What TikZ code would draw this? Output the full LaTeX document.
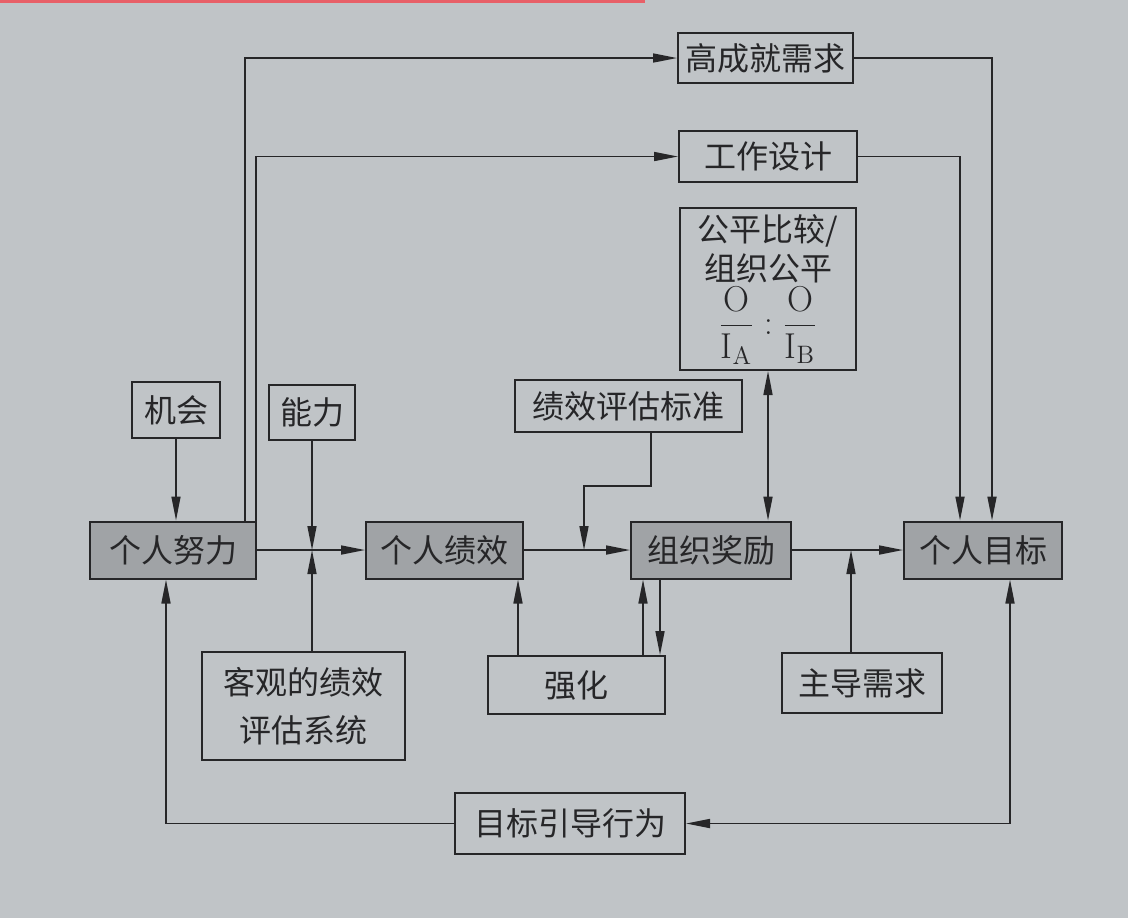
\documentclass[tikz,border=0pt]{standalone}
\usepackage{fontspec}
\usepackage{amsmath}
\newfontfamily\cjk{Noto Sans CJK SC}
\usetikzlibrary{arrows.meta}
\definecolor{paper}{RGB}{192,196,199}
\definecolor{shade}{RGB}{160,163,166}
\definecolor{ink}{RGB}{38,38,40}
\definecolor{redbar}{RGB}{232,96,104}
\begin{document}
\begin{tikzpicture}[x=0.5pt,y=-0.5pt,
  box/.style={draw=ink,line width=1pt,inner sep=0pt,text=ink,
    font=\cjk\fontsize{16}{24}\selectfont,align=center},
  dark/.style={box,fill=shade},
  lbl/.style={inner sep=0pt,text=ink,font=\cjk\fontsize{16}{24}\selectfont},
  conn/.style={draw=ink,line width=0.8pt},
  arr/.style={conn,-{Triangle[length=12pt,width=4.5pt]}},
  darr/.style={conn,{Triangle[length=12pt,width=4.5pt]}-{Triangle[length=12pt,width=4.5pt]}}]
\fill[paper] (0,0) rectangle (1128,918);
\fill[redbar] (0,0) rectangle (645,3);
% top boxes
\node[box,minimum width=87.5pt,minimum height=25pt] (gcj) at (765.5,58) {高成就需求};
\node[box,minimum width=89pt,minimum height=25.5pt] (gzsj) at (768,156.5) {工作设计};
\node[box,minimum width=88pt,minimum height=81pt] (gp) at (768,289) {};
\node[lbl] (gp1) at (768,231) {公平比较/};
\node[lbl] (gp2) at (768,268) {组织公平};
\node[inner sep=0pt,text=ink,font=\fontsize{18}{22}\selectfont] (gpf) at (768,325)
  {$\dfrac{\mathrm{O}}{\mathrm{I}_{\mathrm{A}}}:\dfrac{\mathrm{O}}{\mathrm{I}_{\mathrm{B}}}$};
% upper row
\node[box,minimum width=44pt,minimum height=28pt] (jh) at (176,410) {机会};
\node[box,minimum width=43pt,minimum height=27.5pt] (nl) at (312,412) {能力};
\node[box,minimum width=113.5pt,minimum height=26pt] (jxpg) at (628.5,406) {绩效评估标准};
% main row
\node[dark,minimum width=83pt,minimum height=28.5pt] (grnl) at (173,550) {个人努力};
\node[dark,minimum width=78.5pt,minimum height=28.5pt] (grjx) at (444.5,550) {个人绩效};
\node[dark,minimum width=80pt,minimum height=28.5pt] (zzjl) at (711,550) {组织奖励};
\node[dark,minimum width=79pt,minimum height=28.5pt] (grmb) at (983,550) {个人目标};
% lower row
\node[box,minimum width=101.5pt,minimum height=54pt] (kg) at (303.5,706) {客观的绩效\\评估系统};
\node[box,minimum width=88.5pt,minimum height=29pt] (qh) at (576.5,685) {强化};
\node[box,minimum width=80pt,minimum height=30pt] (zdxq) at (862,683) {主导需求};
\node[box,minimum width=115pt,minimum height=30.5pt] (mbyd) at (570,823.5) {目标引导行为};
% helper coordinates
\coordinate (J1) at (312,550);
\coordinate (J2) at (584,550);
\coordinate (J3) at (851,550);
\coordinate (Q1) at (651,486);
\coordinate (Q2) at (518,0);
\coordinate (Q3) at (643,0);
\coordinate (Q4) at (660,0);
\coordinate (Q5) at (992,0);
\coordinate (Q6) at (960,0);
\coordinate (Q7) at (245,0);
\coordinate (Q8) at (256,0);
\coordinate (Q9) at (166,0);
\coordinate (Q10) at (1010,0);
% connectors
\draw[arr] (jh.south) -- (jh.south |- grnl.north);
\draw[arr] (nl.south) -- (J1);
\draw[arr] (kg.north -| J1) -- (J1);
\draw[arr] (grnl.east) -- (grjx.west);
\draw[arr] (grjx.east) -- (zzjl.west);
\draw[arr] (jxpg.south -| Q1) -- (Q1) -| (J2);
\draw[arr] (zzjl.east) -- (grmb.west);
\draw[arr] (zdxq.north -| J3) -- (J3);
\draw[darr] (gp.south) -- (gp.south |- zzjl.north);
\draw[arr] (qh.north -| Q2) -- (grjx.south -| Q2);
\draw[arr] (qh.north -| Q3) -- (zzjl.south -| Q3);
\draw[arr] (zzjl.south -| Q4) -- (qh.north -| Q4);
\draw[arr] (gcj.east) -| (grmb.north -| Q5);
\draw[arr] (gzsj.east) -| (grmb.north -| Q6);
\draw[arr] (grnl.north -| Q7) |- (gcj.west);
\draw[arr] (grnl.north -| Q8) |- (gzsj.west);
\draw[arr] (mbyd.west) -| (grnl.south -| Q9);
\draw[darr] (grmb.south -| Q10) |- (mbyd.east);
\end{tikzpicture}
\end{document}
